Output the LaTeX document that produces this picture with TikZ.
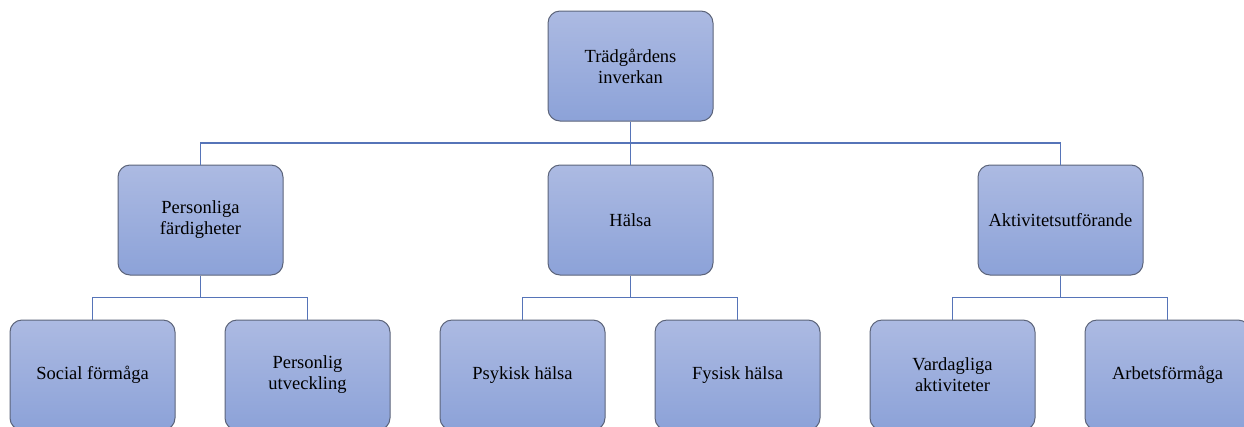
\documentclass[tikz,border=0pt]{standalone}
\usepackage{fontspec}
\setmainfont{Liberation Serif}
\usepackage{tikz}
\usetikzlibrary{calc,positioning}
\usepackage{xcolor}
\definecolor{boxtop}{RGB}{172,186,226}
\definecolor{boxbot}{RGB}{140,162,216}
\definecolor{boxline}{RGB}{92,100,122}
\definecolor{linkblue}{RGB}{86,116,184}

\begin{document}
\begin{tikzpicture}[x=1pt, y=-1pt,
    box/.style={draw=boxline, line width=1pt, rounded corners=12pt,
        top color=boxtop, bottom color=boxbot,
        minimum width=165pt, minimum height=110pt, align=center,
        font=\fontsize{18.5}{21}\selectfont},
    link/.style={draw=linkblue, line width=1.4pt}]
% picture frame (lowest row runs off the bottom edge)
\clip (0,0) rectangle (1244,426);

% Top level
\node[box] (top) at (630.5,66) {Trädgårdens\\inverkan};

% Second level
\node[box] (pers) at (200.5,220) {Personliga\\färdigheter};
\node[box] (hals) at (630.5,220) {Hälsa};
\node[box] (akt)  at (1060.5,220) {Aktivitetsutförande};

% Third level
\node[box] (soc)  at (92.5,375)  {Social förmåga};
\node[box] (utv)  at (307.5,375) {Personlig\\utveckling};
\node[box] (psy)  at (522.5,375) {Psykisk hälsa};
\node[box] (fys)  at (737.5,375) {Fysisk hälsa};
\node[box] (vard) at (952.5,375) {Vardagliga\\aktiviteter};
\node[box] (arb)  at (1167.5,375) {Arbetsförmåga};

% Junctions
\coordinate (j0) at ($(top.south)!0.5!(hals.north)$);
\coordinate (j1) at ($(pers.south)!0.5!(pers.south |- soc.north)$);
\coordinate (j2) at ($(hals.south)!0.5!(hals.south |- psy.north)$);
\coordinate (j3) at ($(akt.south)!0.5!(akt.south |- vard.north)$);

% Connectors
\draw[link] (top.south) -- (j0) -| (pers);
\draw[link] (j0) -| (akt);
\draw[link] (j0) -- (hals);
\draw[link] (pers.south) -- (j1) -| (soc);
\draw[link] (j1) -| (utv);
\draw[link] (hals.south) -- (j2) -| (psy);
\draw[link] (j2) -| (fys);
\draw[link] (akt.south) -- (j3) -| (vard);
\draw[link] (j3) -| (arb);

\end{tikzpicture}
\end{document}
